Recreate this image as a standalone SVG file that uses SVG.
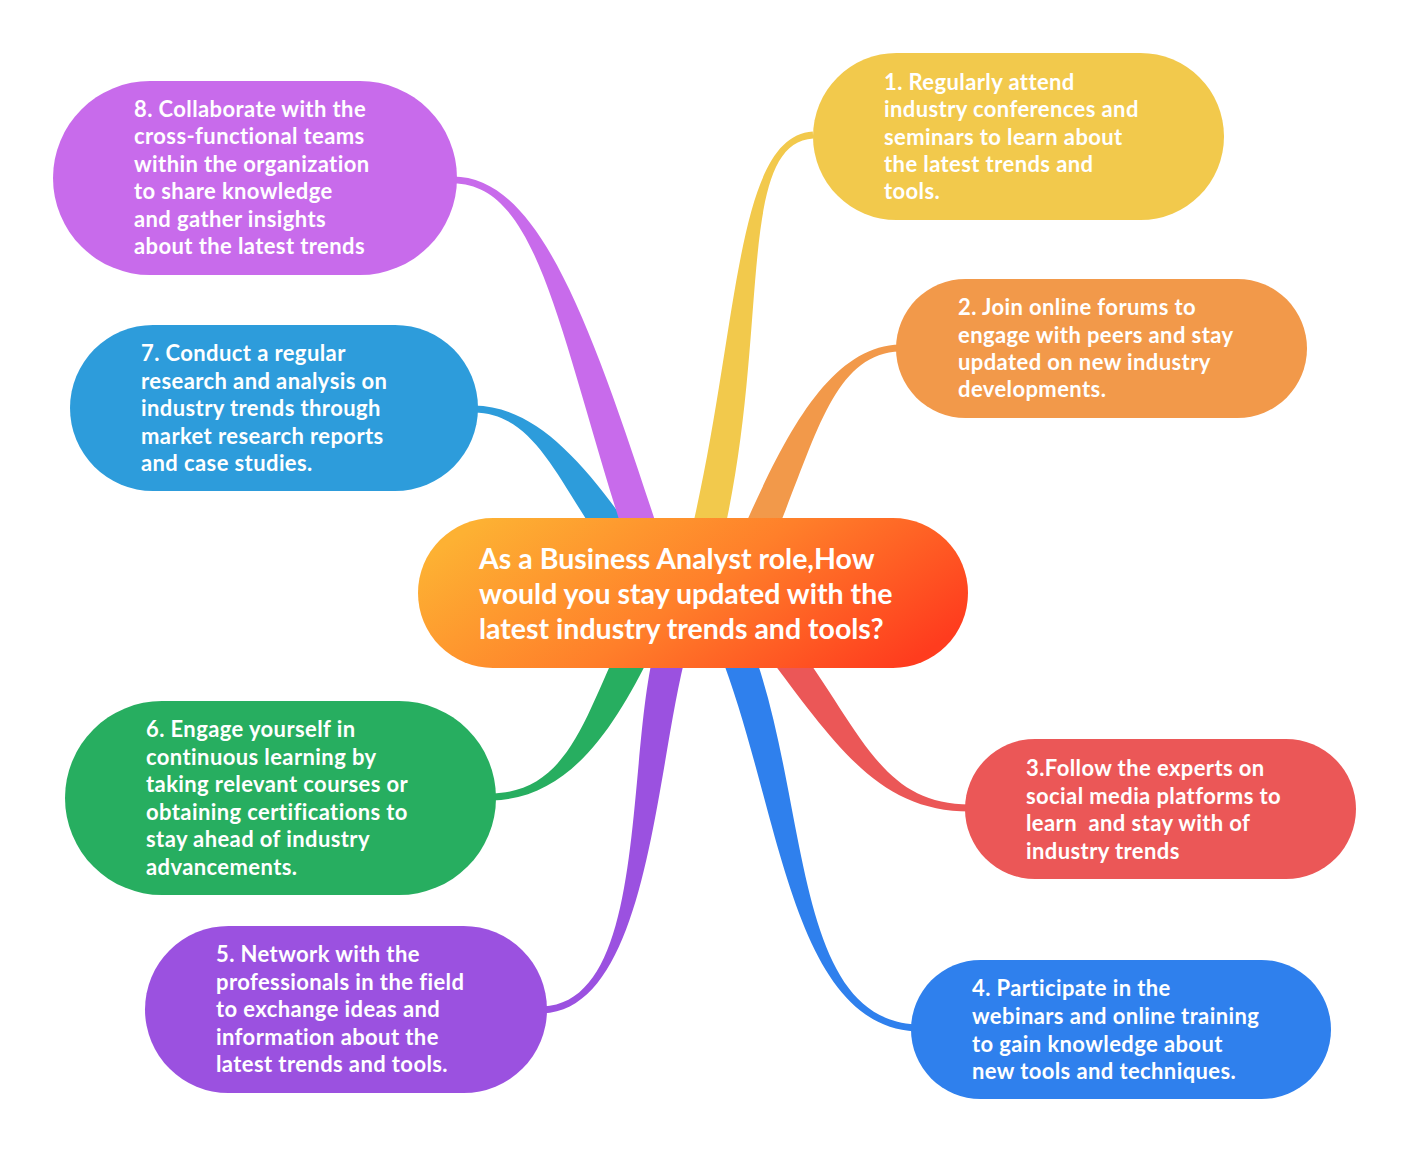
<svg xmlns="http://www.w3.org/2000/svg" width="1409" height="1153" viewBox="0 0 1409 1153">
<defs>
<linearGradient id="gc" x1="0" y1="0.3" x2="1" y2="0.7">
<stop offset="0" stop-color="#FDB133"/>
<stop offset="0.5" stop-color="#FF7F2A"/>
<stop offset="1" stop-color="#FF3C1E"/>
</linearGradient>
<style>
.t{font-family:Lato,"Open Sans","Liberation Sans",sans-serif;font-weight:700;fill:#fff;font-size:22px;letter-spacing:0.4px;white-space:pre}
.tc{font-size:28.5px;letter-spacing:0}
</style>
</defs>
<rect width="1409" height="1153" fill="#fff"/>
<g id="connectors">
<path fill="#F2C94C" d="M722.6,538.6 C770.6,333.6 735.2,143.5 813.2,138.5 L812.8,131.5 C734.8,136.5 739.4,326.4 691.4,531.4 Z"/>
<path fill="#F2994A" d="M769.6,548.5 C814.6,446.5 830.1,353.5 900,351.5 L900,344.5 C829.9,346.5 785.4,433.5 740.4,535.5 Z"/>
<path fill="#EB5757" d="M766,653 C838,749 880,811.5 970,811.5 L970,804.5 C880,804.5 862,731 790,635 Z"/>
<path fill="#2F80ED" d="M719.1,650.9 C780.1,805.9 789.8,1023.5 915,1031.5 L915,1024.5 C790.2,1016.5 809.9,794.1 748.9,639.1 Z"/>
<path fill="#9B51E0" d="M656.6,640.7 C624.6,755.7 649.8,1001.5 543,1006.5 L543,1013.5 C650.2,1008.5 655.4,764.3 687.4,649.3 Z"/>
<path fill="#27AE60" d="M622.7,638.8 C585.7,712.8 569.9,791.5 492,793.5 L492,800.5 C570.1,798.5 614.3,727.2 651.3,653.2 Z"/>
<path fill="#2D9CDB" d="M474,412.5 C534.9,413.5 556.9,479.1 608.9,554.1 L635.1,535.9 C583.1,460.9 535.1,406.5 474,405.5 Z"/>
<path fill="#C86BEB" d="M453,183.5 C540,183.5 558.8,335.3 629.8,553.3 L662.2,542.7 C591.2,324.7 540,176.5 453,176.5 Z"/>
</g>
<g id="node-center">
<rect x="418" y="518" width="550" height="150" rx="75" fill="url(#gc)"/>
<text class="t tc" x="479"><tspan x="479" y="569">As a Business Analyst role,How</tspan><tspan x="479" y="604">would you stay updated with the</tspan><tspan x="479" y="639">latest industry trends and tools?</tspan></text>
</g>
<g id="node-1">
<rect x="813" y="53" width="411" height="167" rx="83.5" fill="#F2C94C"/>
<text class="t"><tspan x="884" y="90">1. Regularly attend</tspan><tspan x="884" y="117">industry conferences and</tspan><tspan x="884" y="145">seminars to learn about</tspan><tspan x="884" y="172">the latest trends and</tspan><tspan x="884" y="199">tools.</tspan></text>
</g>
<g id="node-2">
<rect x="896" y="279" width="411" height="139" rx="69.5" fill="#F2994A"/>
<text class="t"><tspan x="958" y="315">2. Join online forums to</tspan><tspan x="958" y="343">engage with peers and stay</tspan><tspan x="958" y="370">updated on new industry</tspan><tspan x="958" y="397">developments.</tspan></text>
</g>
<g id="node-3">
<rect x="965" y="739" width="391" height="140" rx="70" fill="#EB5757"/>
<text class="t"><tspan x="1026" y="776">3.Follow the experts on</tspan><tspan x="1026" y="804">social media platforms to</tspan><tspan x="1026" y="831">learn  and stay with of</tspan><tspan x="1026" y="859">industry trends</tspan></text>
</g>
<g id="node-4">
<rect x="911" y="960" width="420" height="139" rx="69.5" fill="#2F80ED"/>
<text class="t"><tspan x="972" y="996">4. Participate in the</tspan><tspan x="972" y="1024">webinars and online training</tspan><tspan x="972" y="1052">to gain knowledge about</tspan><tspan x="972" y="1079">new tools and techniques.</tspan></text>
</g>
<g id="node-5">
<rect x="145" y="926" width="402" height="167" rx="83.5" fill="#9B51E0"/>
<text class="t"><tspan x="216" y="962">5. Network with the</tspan><tspan x="216" y="990">professionals in the field</tspan><tspan x="216" y="1017">to exchange ideas and</tspan><tspan x="216" y="1045">information about the</tspan><tspan x="216" y="1072">latest trends and tools.</tspan></text>
</g>
<g id="node-6">
<rect x="65" y="701" width="431" height="194" rx="97" fill="#27AE60"/>
<text class="t"><tspan x="146" y="737">6. Engage yourself in</tspan><tspan x="146" y="765">continuous learning by</tspan><tspan x="146" y="792">taking relevant courses or</tspan><tspan x="146" y="820">obtaining certifications to</tspan><tspan x="146" y="847">stay ahead of industry</tspan><tspan x="146" y="875">advancements.</tspan></text>
</g>
<g id="node-7">
<rect x="70" y="325" width="408" height="166" rx="83" fill="#2D9CDB"/>
<text class="t"><tspan x="141" y="361">7. Conduct a regular</tspan><tspan x="141" y="389">research and analysis on</tspan><tspan x="141" y="416">industry trends through</tspan><tspan x="141" y="444">market research reports</tspan><tspan x="141" y="471">and case studies.</tspan></text>
</g>
<g id="node-8">
<rect x="53" y="81" width="404" height="194" rx="97" fill="#C86BEB"/>
<text class="t"><tspan x="134" y="117">8. Collaborate with the</tspan><tspan x="134" y="144">cross-functional teams</tspan><tspan x="134" y="172">within the organization</tspan><tspan x="134" y="199">to share knowledge</tspan><tspan x="134" y="227">and gather insights</tspan><tspan x="134" y="254">about the latest trends</tspan></text>
</g>
</svg>
